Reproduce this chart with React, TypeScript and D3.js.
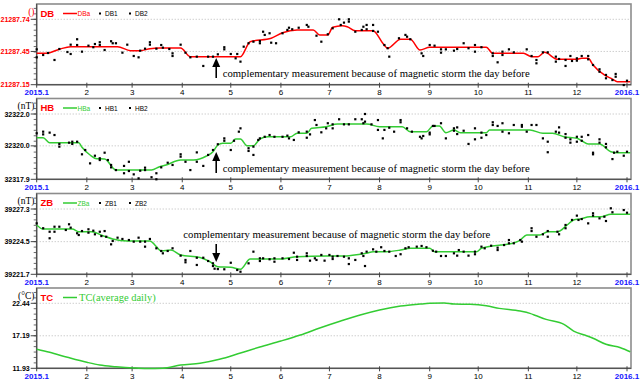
import React from "react";
import * as d3 from "d3";

type P = [number, number];

const START = new Date(2015, 0, 1);
const END = new Date(2016, 0, 1);
const MONTH_LABELS = ["2015.1", "2", "3", "4", "5", "6", "7", "8", "9", "10", "11", "12", "2016.1"];

const DB_TICKS = [21287.15, 21287.45, 21287.74];
const DB_TICK_LABELS = ["21287.15", "21287.45", "21287.74"];
const HB_TICKS = [32317.9, 32320.0, 32322.0];
const HB_TICK_LABELS = ["32317.9", "32320.0", "32322.0"];
const ZB_TICKS = [39221.7, 39224.5, 39227.3];
const ZB_TICK_LABELS = ["39221.7", "39224.5", "39227.3"];
const TC_TICKS = [11.93, 17.19, 22.44];
const TC_TICK_LABELS = ["11.93", "17.19", "22.44"];

const DB_LINE: P[] = [[0,21287.433],[6,21287.433],[14,21287.470],[21,21287.493],[50,21287.493],[58,21287.457],[64,21287.457],[70,21287.475],[76,21287.481],[89,21287.481],[95,21287.403],[126,21287.403],[132,21287.538],[145,21287.569],[152,21287.619],[161,21287.644],[171,21287.644],[175,21287.599],[180,21287.599],[183,21287.668],[189,21287.682],[192,21287.673],[197,21287.637],[208,21287.637],[214,21287.524],[217,21287.479],[225,21287.560],[231,21287.560],[237,21287.463],[243,21287.488],[278,21287.488],[282,21287.433],[301,21287.433],[306,21287.403],[310,21287.403],[314,21287.442],[322,21287.379],[334,21287.379],[337,21287.388],[341,21287.388],[344,21287.328],[351,21287.238],[356,21287.201],[359,21287.177],[367,21287.177]];
const DB1: P[] = [[0,21287.469],[4,21287.418],[11,21287.373],[19,21287.445],[21,21287.511],[25,21287.508],[32,21287.502],[36,21287.517],[39,21287.508],[46,21287.542],[49,21287.524],[56,21287.511],[63,21287.397],[67,21287.475],[70,21287.511],[77,21287.508],[82,21287.472],[84,21287.409],[92,21287.439],[99,21287.403],[106,21287.403],[112,21287.424],[116,21287.469],[123,21287.388],[124,21287.427],[131,21287.524],[138,21287.544],[140,21287.628],[144,21287.614],[148,21287.524],[155,21287.644],[158,21287.650],[167,21287.689],[173,21287.592],[180,21287.605],[187,21287.740],[190,21287.710],[193,21287.719],[201,21287.644],[204,21287.689],[208,21287.689],[211,21287.628],[217,21287.479],[224,21287.569],[229,21287.583],[238,21287.433],[243,21287.508],[250,21287.469],[250,21287.439],[260,21287.472],[267,21287.479],[271,21287.448],[282,21287.433],[285,21287.352],[288,21287.448],[295,21287.442],[306,21287.409],[309,21287.343],[316,21287.442],[321,21287.358],[327,21287.319],[330,21287.409],[334,21287.388],[337,21287.409],[341,21287.379],[348,21287.289],[352,21287.238],[356,21287.192],[358,21287.222],[365,21287.186]];
const DB2: P[] = [[0,21287.397],[7,21287.436],[14,21287.472],[21,21287.427],[25,21287.560],[28,21287.448],[35,21287.488],[39,21287.533],[42,21287.463],[47,21287.524],[53,21287.439],[60,21287.409],[64,21287.457],[70,21287.533],[74,21287.475],[78,21287.484],[84,21287.433],[89,21287.511],[95,21287.397],[103,21287.319],[109,21287.403],[116,21287.488],[120,21287.427],[126,21287.358],[128,21287.493],[134,21287.538],[138,21287.524],[141,21287.599],[145,21287.529],[152,21287.614],[156,21287.664],[162,21287.664],[168,21287.673],[176,21287.538],[183,21287.659],[188,21287.689],[193,21287.740],[197,21287.628],[202,21287.673],[204,21287.650],[208,21287.635],[215,21287.508],[218,21287.403],[228,21287.599],[231,21287.560],[239,21287.409],[246,21287.502],[253,21287.469],[258,21287.457],[264,21287.524],[271,21287.508],[275,21287.488],[282,21287.409],[288,21287.418],[292,21287.469],[303,21287.469],[309,21287.373],[313,21287.442],[321,21287.403],[323,21287.382],[327,21287.373],[331,21287.364],[334,21287.367],[341,21287.409],[344,21287.328],[348,21287.267],[352,21287.208],[358,21287.247],[363,21287.147]];

const HB_LINE: P[] = [[0,32320.511],[4,32320.511],[8,32320.197],[26,32320.197],[28,32319.909],[33,32319.425],[37,32319.193],[42,32319.174],[49,32318.484],[71,32318.484],[76,32318.691],[80,32318.798],[89,32319.111],[97,32319.111],[105,32319.363],[109,32319.632],[112,32320.053],[115,32320.160],[120,32320.160],[123,32320.430],[126,32320.430],[130,32320.009],[134,32320.009],[138,32320.430],[143,32320.574],[157,32320.574],[161,32320.787],[167,32320.787],[170,32321.101],[179,32321.202],[186,32321.371],[204,32321.371],[212,32321.202],[226,32321.202],[231,32320.888],[241,32320.888],[245,32321.246],[249,32321.246],[253,32320.825],[258,32320.995],[262,32320.825],[278,32320.825],[280,32320.995],[305,32320.995],[313,32320.787],[319,32320.787],[326,32320.574],[334,32320.474],[337,32320.323],[341,32320.116],[348,32320.116],[355,32319.632],[359,32319.570],[367,32319.570]];
const HB1: P[] = [[0,32320.79],[4,32320.72],[11,32320.68],[14,32320.12],[22,32320.26],[25,32320.26],[30,32319.74],[36,32319.38],[39,32319.11],[44,32319.11],[46,32318.80],[54,32318.74],[57,32318.42],[60,32318.21],[64,32318.44],[67,32318.48],[74,32317.90],[77,32318.65],[84,32318.80],[89,32319.32],[95,32318.48],[99,32319.00],[106,32319.43],[112,32320.10],[116,32320.32],[122,32320.32],[125,32320.89],[131,32319.68],[134,32319.43],[138,32320.47],[144,32320.68],[152,32320.57],[156,32320.47],[162,32320.85],[167,32320.51],[172,32321.62],[176,32320.85],[180,32321.42],[183,32321.35],[190,32321.35],[197,32321.67],[202,32321.42],[203,32321.52],[211,32321.62],[214,32320.47],[218,32321.14],[225,32321.62],[229,32321.10],[237,32320.57],[239,32320.62],[243,32320.83],[246,32321.25],[253,32320.47],[258,32320.95],[260,32320.74],[267,32320.12],[271,32320.41],[275,32320.83],[282,32321.48],[285,32321.25],[288,32320.89],[295,32321.31],[300,32321.20],[306,32321.31],[313,32320.47],[316,32319.60],[323,32321.16],[327,32320.74],[330,32320.41],[334,32320.57],[337,32320.57],[341,32320.68],[344,32319.47],[348,32320.20],[352,32319.91],[357,32319.57],[363,32319.38]];
const HB2: P[] = [[4,32320.89],[8,32320.83],[14,32319.95],[20,32320.20],[22,32320.12],[28,32319.47],[33,32318.90],[39,32319.22],[42,32319.57],[46,32318.65],[49,32318.48],[54,32318.28],[57,32319.00],[63,32317.96],[67,32318.63],[71,32318.03],[74,32318.28],[81,32318.94],[89,32319.47],[92,32319.00],[99,32319.59],[103,32318.74],[109,32319.74],[116,32320.47],[120,32319.74],[126,32321.10],[131,32319.85],[134,32319.95],[137,32320.37],[141,32320.57],[147,32320.57],[155,32320.64],[159,32320.37],[167,32320.89],[169,32320.72],[173,32321.31],[179,32321.10],[183,32321.10],[187,32321.67],[193,32321.35],[201,32321.67],[203,32322.00],[207,32321.35],[211,32321.00],[215,32321.00],[221,32320.89],[225,32321.48],[232,32320.89],[238,32320.47],[243,32320.72],[245,32321.25],[250,32321.42],[258,32321.10],[260,32321.16],[264,32320.95],[271,32321.10],[275,32320.51],[278,32320.68],[282,32321.31],[288,32321.42],[292,32320.79],[300,32321.31],[303,32320.89],[309,32321.31],[316,32320.26],[321,32320.89],[323,32320.83],[327,32320.51],[330,32320.20],[334,32320.26],[337,32320.32],[344,32319.57],[348,32320.41],[352,32320.12],[356,32319.17],[359,32319.63],[365,32319.63]];

const ZB_LINE: P[] = [[0,39225.93],[4,39225.58],[22,39225.58],[26,39225.35],[34,39225.35],[41,39225.01],[47,39224.73],[56,39224.56],[70,39224.56],[74,39224.07],[77,39223.70],[83,39223.78],[89,39223.36],[101,39223.14],[107,39222.78],[112,39222.35],[120,39222.30],[126,39222.13],[132,39223.01],[151,39223.01],[161,39223.21],[179,39223.27],[190,39223.27],[200,39223.42],[204,39223.50],[208,39223.64],[216,39223.64],[225,39223.78],[231,39223.93],[243,39223.93],[246,39223.64],[272,39223.64],[275,39223.93],[287,39224.21],[291,39224.27],[299,39224.64],[303,39225.07],[311,39225.07],[316,39225.35],[322,39225.35],[328,39225.93],[332,39226.36],[336,39226.44],[342,39226.64],[349,39226.64],[355,39226.85],[367,39226.85]];
const ZB1: P[] = [[0,39226.07],[8,39224.79],[11,39225.35],[14,39225.78],[20,39225.99],[25,39225.22],[28,39225.41],[32,39225.27],[36,39225.13],[40,39224.98],[43,39224.92],[47,39224.56],[53,39224.73],[60,39224.50],[64,39224.50],[67,39224.50],[74,39223.93],[78,39223.50],[84,39223.93],[92,39222.73],[95,39223.70],[99,39223.12],[106,39222.84],[112,39222.15],[110,39222.18],[120,39222.69],[126,39221.92],[134,39223.64],[138,39222.84],[144,39222.99],[147,39222.78],[156,39223.01],[161,39223.21],[167,39223.50],[169,39222.87],[173,39222.93],[178,39222.87],[183,39223.21],[186,39223.27],[193,39222.58],[197,39222.93],[202,39223.27],[204,39223.64],[210,39223.64],[215,39223.70],[222,39223.27],[228,39223.93],[235,39224.07],[241,39224.02],[247,39223.64],[253,39223.27],[260,39223.30],[264,39223.64],[271,39223.64],[275,39224.07],[281,39224.15],[285,39223.78],[292,39224.64],[295,39224.36],[300,39224.50],[306,39225.41],[313,39225.13],[316,39224.92],[323,39225.13],[327,39225.93],[334,39226.73],[337,39226.44],[344,39226.93],[348,39226.50],[352,39226.27],[356,39227.02],[365,39226.98]];
const ZB2: P[] = [[4,39225.65],[8,39225.35],[11,39225.78],[18,39225.50],[21,39225.70],[26,39225.07],[32,39225.56],[35,39225.44],[39,39225.35],[42,39225.41],[46,39224.27],[50,39224.84],[57,39224.64],[63,39224.84],[67,39224.07],[70,39224.73],[77,39223.70],[81,39223.70],[89,39223.30],[92,39222.93],[99,39222.50],[103,39223.12],[109,39222.64],[109,39222.41],[116,39222.13],[124,39222.07],[131,39222.64],[138,39223.07],[140,39223.07],[147,39223.07],[152,39223.07],[159,39223.55],[161,39222.93],[167,39223.27],[172,39223.07],[176,39223.36],[181,39223.36],[183,39223.01],[190,39223.21],[193,39223.07],[201,39223.50],[203,39222.41],[208,39223.84],[213,39224.02],[218,39223.64],[225,39223.42],[230,39224.02],[238,39224.13],[245,39223.72],[250,39223.27],[258,39223.50],[261,39223.78],[267,39223.30],[271,39223.42],[277,39223.93],[285,39223.98],[289,39224.21],[292,39224.36],[299,39224.64],[306,39225.65],[309,39224.92],[316,39225.41],[322,39225.35],[327,39225.65],[331,39226.36],[335,39226.36],[341,39226.07],[344,39226.73],[351,39226.64],[355,39227.36],[363,39227.21]];

const TC_LINE: P[] = [[0,15.00],[8,14.51],[19,13.71],[31,12.90],[39,12.46],[49,12.19],[60,11.98],[68,11.90],[78,11.93],[89,12.46],[101,12.74],[113,13.38],[126,14.40],[138,15.37],[151,16.34],[163,17.31],[175,18.44],[188,19.57],[200,20.54],[212,21.35],[225,21.99],[237,22.31],[243,22.43],[252,22.48],[258,22.31],[268,22.27],[278,22.04],[286,21.62],[299,21.18],[305,20.81],[309,20.42],[315,19.84],[326,19.04],[332,17.95],[340,17.19],[344,16.78],[352,15.81],[361,15.26],[367,14.61]];

const NOTE = "complementary measurement because of magnetic storm the day before";
const NOTE_DAY = 111;

const RED = "#ff0000";
const GREEN = "#33cc33";
const BLUE = "#1515ff";
const SANS = "'Liberation Sans', Arial, sans-serif";
const SERIF = "'Liberation Serif', 'Times New Roman', serif";

const X0 = 36.7;
const X1 = 627;
const XR = 631;
const x = d3.scaleTime().domain([START, END]).range([X0, X1]);
const dayDate = (d: number) => d3.timeDay.offset(START, d);
const months = d3.timeMonth.range(START, d3.timeDay.offset(END, 1));

interface PanelCfg {
  title: string;
  unit: string;
  unitColor: string;
  color: string;
  legend: string;
  s1?: string;
  s2?: string;
  top: number;
  bottom: number;
  tickTop: number;
  ticks: number[];
  tickLabels: string[];
  tickColor: string;
  line: P[];
  p1?: P[];
  p2?: P[];
  serifLegend?: boolean;
  note?: { tx: number; ty: number; tip: number; tail: number };
}

const panels: PanelCfg[] = [
  { title: "DB", unit: "()", unitColor: RED, color: RED, legend: "DBa", s1: "DB1", s2: "DB2", top: 4, bottom: 84.7, tickTop: 19.3, ticks: DB_TICKS, tickLabels: DB_TICK_LABELS, tickColor: RED, line: DB_LINE, p1: DB1, p2: DB2, note: { tx: 222.7, ty: 76.5, tip: 58, tail: 78 } },
  { title: "HB", unit: "(nT)", unitColor: "#000", color: GREEN, legend: "HBa", s1: "HB1", s2: "HB2", top: 98.5, bottom: 179.3, tickTop: 114, ticks: HB_TICKS, tickLabels: HB_TICK_LABELS, tickColor: "#000", line: HB_LINE, p1: HB1, p2: HB2, note: { tx: 222.7, ty: 171.5, tip: 152, tail: 173 } },
  { title: "ZB", unit: "(nT)", unitColor: "#000", color: GREEN, legend: "ZBa", s1: "ZB1", s2: "ZB2", top: 193.5, bottom: 274.3, tickTop: 209, ticks: ZB_TICKS, tickLabels: ZB_TICK_LABELS, tickColor: "#000", line: ZB_LINE, p1: ZB1, p2: ZB2, note: { tx: 183.3, ty: 237.5, tip: 262, tail: 244 } },
  { title: "TC", unit: "(°C)", unitColor: "#000", color: GREEN, legend: "TC(average daily)", top: 288, bottom: 368.3, tickTop: 303.3, ticks: TC_TICKS, tickLabels: TC_TICK_LABELS, tickColor: "#000", line: TC_LINE, serifLegend: true },
];

function Panel({ cfg }: { cfg: PanelCfg }) {
  const y = d3.scaleLinear().domain([cfg.ticks[0], cfg.ticks[2]]).range([cfg.bottom, cfg.tickTop]);
  const line = d3
    .line<P>()
    .x((d) => x(dayDate(d[0])))
    .y((d) => y(d[1]))
    .curve(d3.curveMonotoneX);
  const minorStep = (cfg.bottom - cfg.tickTop) / 12;
  const minors: number[] = [];
  for (let yy = cfg.bottom - minorStep; yy > cfg.top + 1; yy -= minorStep) minors.push(yy);
  const titleY = cfg.top + 9.5;
  const noteX = x(dayDate(NOTE_DAY));
  const pts = [...(cfg.p1 || []), ...(cfg.p2 || [])];
  return (
    <g>
      <rect x={X0} y={cfg.top} width={XR - X0} height={cfg.bottom - cfg.top} fill="#fff" stroke="#8c8c8c" strokeWidth={1.6} />
      {cfg.ticks.slice(1).map((t, i) => (
        <line key={i} x1={X0} x2={XR} y1={y(t)} y2={y(t)} stroke="#b8b8b8" strokeWidth={1} strokeDasharray="1,2" />
      ))}
      <line x1={X0} x2={X0} y1={cfg.top} y2={cfg.bottom} stroke="#444" strokeWidth={1} />
      <line x1={X0} x2={XR} y1={cfg.bottom} y2={cfg.bottom} stroke="#555" strokeWidth={1.2} />
      {minors.map((m, i) => (
        <line key={i} x1={X0 - 3} x2={X0} y1={m} y2={m} stroke="#444" strokeWidth={0.8} />
      ))}
      {cfg.ticks.map((t, i) => (
        <g key={i}>
          <line x1={X0 - 6} x2={X0} y1={y(t)} y2={y(t)} stroke="#444" strokeWidth={1} />
          <text x={X0 - 7} y={y(t) + 2.5} textAnchor="end" fontFamily={SANS} fontWeight="bold" fontSize={7} fill={cfg.tickColor}>
            {cfg.tickLabels[i]}
          </text>
        </g>
      ))}
      {months.map((m, i) => (
        <g key={i}>
          <line x1={x(m)} x2={x(m)} y1={cfg.bottom - 2} y2={cfg.bottom + 3} stroke="#444" strokeWidth={1} />
          <text
            x={x(m)}
            y={cfg.bottom + 10.5}
            textAnchor="middle"
            fontFamily={SANS}
            fontSize={8}
            fontWeight={i === 0 || i === 12 ? "bold" : "normal"}
            fill={i === 0 || i === 12 ? BLUE : "#000"}
          >
            {MONTH_LABELS[i]}
          </text>
        </g>
      ))}
      <path d={line(cfg.line) || ""} fill="none" stroke={cfg.color} strokeWidth={1.5} />
      {pts.map((p, i) => (
        <rect key={i} x={x(dayDate(p[0])) - 1.1} y={y(p[1]) - 1.1} width={2.2} height={2.2} fill="#000" />
      ))}
      <text x={34.5} y={titleY + 1} textAnchor="end" fontFamily={SERIF} fontSize={9.5} fill={cfg.unitColor}>
        {cfg.unit}
      </text>
      <text x={40.5} y={titleY + 3} fontFamily={SANS} fontWeight="bold" fontSize={9.5} fill={RED}>
        {cfg.title}
      </text>
      <line x1={63} x2={77} y1={titleY} y2={titleY} stroke={cfg.color} strokeWidth={1.5} />
      {cfg.serifLegend ? (
        <text x={79} y={titleY + 3.5} fontFamily={SERIF} fontSize={10.5} fill={cfg.color}>
          {cfg.legend}
        </text>
      ) : (
        <>
          <text x={77.5} y={titleY + 2.5} fontFamily={SANS} fontSize={6.5} fill={cfg.color}>
            {cfg.legend}
          </text>
          <rect x={99} y={titleY - 1} width={2} height={2} fill="#000" />
          <text x={105} y={titleY + 2.5} fontFamily={SANS} fontSize={6.5} fill="#000">
            {cfg.s1}
          </text>
          <rect x={129} y={titleY - 1} width={2} height={2} fill="#000" />
          <text x={135} y={titleY + 2.5} fontFamily={SANS} fontSize={6.5} fill="#000">
            {cfg.s2}
          </text>
        </>
      )}
      {cfg.note && (
        <g>
          <text x={cfg.note.tx} y={cfg.note.ty} fontFamily={SERIF} fontSize={11} fill="#000" textLength={307} lengthAdjust="spacingAndGlyphs">
            {NOTE}
          </text>
          <line x1={noteX} x2={noteX} y1={cfg.note.tail} y2={cfg.note.tip + (cfg.note.tip < cfg.note.tail ? 6 : -6)} stroke="#000" strokeWidth={1.6} />
          <path
            d={
              cfg.note.tip < cfg.note.tail
                ? `M${noteX},${cfg.note.tip} L${noteX - 4},${cfg.note.tip + 9} L${noteX + 4},${cfg.note.tip + 9} Z`
                : `M${noteX},${cfg.note.tip} L${noteX - 4},${cfg.note.tip - 9} L${noteX + 4},${cfg.note.tip - 9} Z`
            }
            fill="#000"
          />
        </g>
      )}
    </g>
  );
}

export default function App() {
  return (
    <svg width={640} height={382} style={{ position: "absolute", left: 0, top: 0, background: "#fff" }}>
      <rect x={0} y={0} width={640} height={382} fill="#fff" />
      {panels.map((p, i) => (
        <Panel key={i} cfg={p} />
      ))}
    </svg>
  );
}
